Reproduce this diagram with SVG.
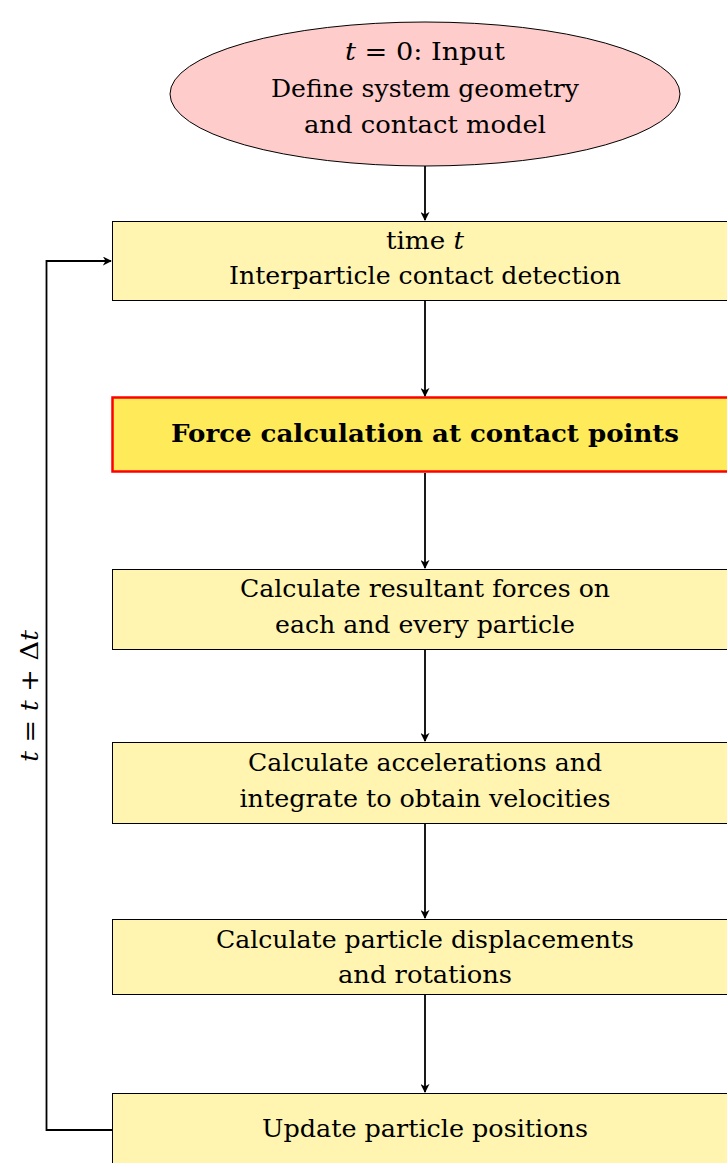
<svg xmlns="http://www.w3.org/2000/svg" width="727" height="1163" viewBox="0 0 727 1163">
<defs>
<style>
.t{font-family:"DejaVu Serif","Liberation Serif",serif;font-size:24px;fill:#000;text-anchor:middle}
.m{font-style:italic}
.b{font-weight:bold}
.box{fill:#fff5b0;stroke:#000;stroke-width:1}
.c{fill:none;stroke:#000;stroke-width:1.8}
</style>
<marker id="ah" viewBox="0 0 10 10" refX="9" refY="5" markerWidth="9" markerHeight="9" markerUnits="userSpaceOnUse" orient="auto">
<path d="M0,0 L10,5 L0,10 L3,5 Z" fill="#000"/>
</marker>
</defs>
<rect width="727" height="1163" fill="#fff"/>
<g id="start">
<ellipse cx="425" cy="94" rx="255" ry="72" fill="#ffcccc" stroke="#000" stroke-width="1"/>
<text class="t" x="425" y="60" textLength="160" lengthAdjust="spacingAndGlyphs"><tspan class="m">t</tspan> = 0:  Input</text>
<text class="t" x="425" y="97" textLength="308" lengthAdjust="spacingAndGlyphs">Define system geometry</text>
<text class="t" x="425" y="133" textLength="242" lengthAdjust="spacingAndGlyphs">and contact model</text>
</g>
<g id="detect">
<rect class="box" x="112.5" y="221.5" width="626" height="79"/>
<text class="t" x="425" y="249" textLength="78" lengthAdjust="spacingAndGlyphs">time <tspan class="m">t</tspan></text>
<text class="t" x="425" y="284" textLength="392" lengthAdjust="spacingAndGlyphs">Interparticle contact detection</text>
</g>
<g id="force">
<rect x="112.5" y="397.5" width="626" height="74" fill="#ffeb5a" stroke="#ff0000" stroke-width="2.5"/>
<text class="t b" x="425" y="442" textLength="508" lengthAdjust="spacingAndGlyphs">Force calculation at contact points</text>
</g>
<g id="resultant">
<rect class="box" x="112.5" y="569.5" width="626" height="80"/>
<text class="t" x="425" y="597" textLength="370" lengthAdjust="spacingAndGlyphs">Calculate resultant forces on</text>
<text class="t" x="425" y="633" textLength="300" lengthAdjust="spacingAndGlyphs">each and every particle</text>
</g>
<g id="accel">
<rect class="box" x="112.5" y="742.5" width="626" height="81"/>
<text class="t" x="425" y="771" textLength="354" lengthAdjust="spacingAndGlyphs">Calculate accelerations and</text>
<text class="t" x="425" y="807" textLength="371" lengthAdjust="spacingAndGlyphs">integrate to obtain velocities</text>
</g>
<g id="disp">
<rect class="box" x="112.5" y="919.5" width="626" height="75"/>
<text class="t" x="425" y="948" textLength="418" lengthAdjust="spacingAndGlyphs">Calculate particle displacements</text>
<text class="t" x="425" y="983" textLength="174" lengthAdjust="spacingAndGlyphs">and rotations</text>
</g>
<g id="update">
<rect class="box" x="112.5" y="1093.5" width="626" height="80"/>
<text class="t" x="425" y="1137" textLength="326" lengthAdjust="spacingAndGlyphs">Update particle positions</text>
</g>
<g id="connectors">
<line class="c" x1="425" y1="166" x2="425" y2="220" marker-end="url(#ah)"/>
<line class="c" x1="425" y1="301" x2="425" y2="396" marker-end="url(#ah)"/>
<line class="c" x1="425" y1="473" x2="425" y2="568" marker-end="url(#ah)"/>
<line class="c" x1="425" y1="650" x2="425" y2="741" marker-end="url(#ah)"/>
<line class="c" x1="425" y1="824" x2="425" y2="918" marker-end="url(#ah)"/>
<line class="c" x1="425" y1="995" x2="425" y2="1092" marker-end="url(#ah)"/>
<polyline class="c" points="112,1130 46.5,1130 46.5,261 111,261" marker-end="url(#ah)"/>
<text class="t" x="0" y="0" transform="translate(38,696) rotate(-90)" textLength="132" lengthAdjust="spacingAndGlyphs"><tspan class="m">t</tspan> = <tspan class="m">t</tspan> + Δ<tspan class="m">t</tspan></text>
</g>
</svg>
